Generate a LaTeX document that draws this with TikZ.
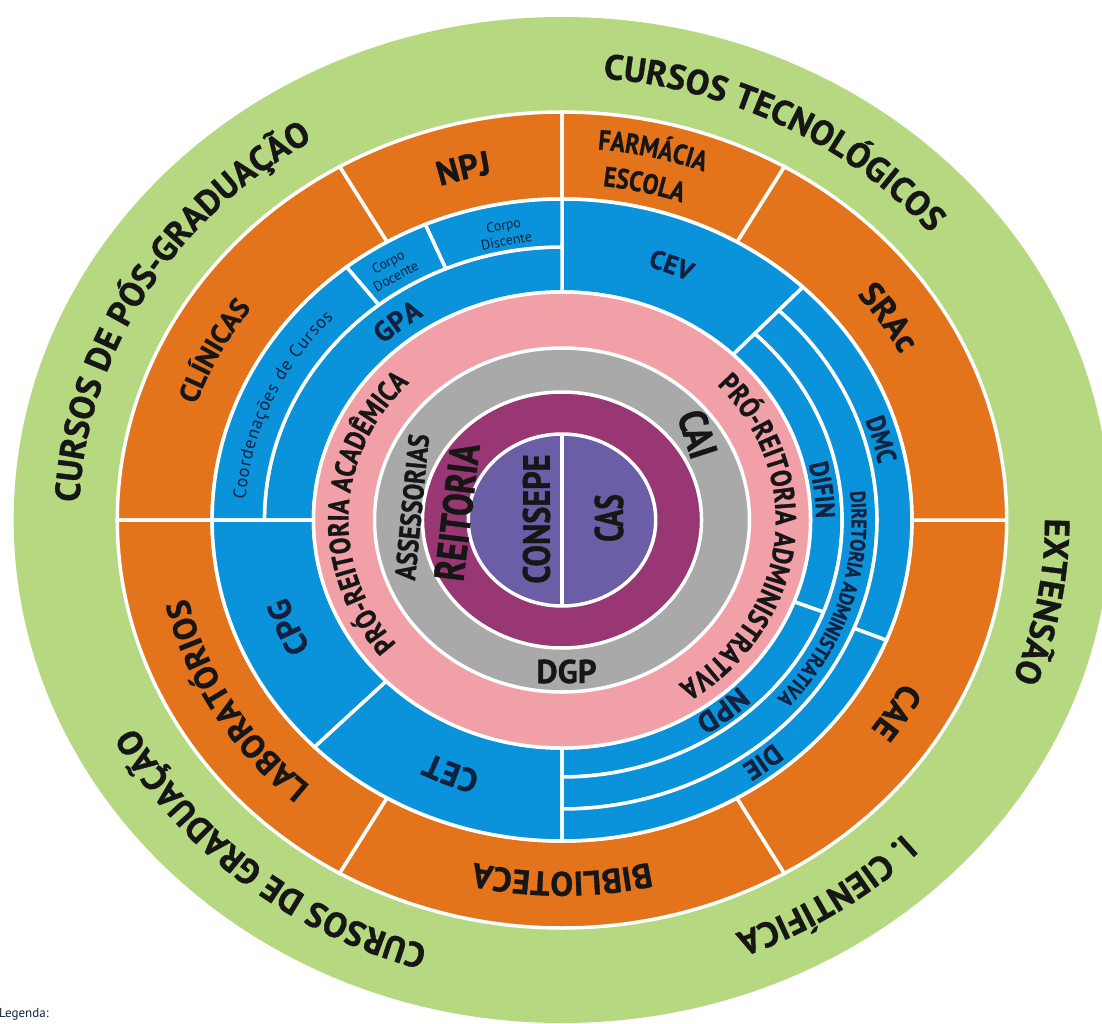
\documentclass[tikz,border=0pt]{standalone}
\usepackage{fontspec}
\setmainfont{PT Sans}
\newfontfamily\heavy{PT Sans Bold}[FakeBold=1]
\newfontfamily\heavycond{PT Sans Bold}[FakeBold=1, FakeStretch=0.85]
\newfontfamily\heavynarrow{PT Sans Bold}[FakeBold=1, FakeStretch=0.72]
\newfontfamily\heavytall{PT Sans Bold}[FakeBold=1, FakeStretch=0.8]
\newfontfamily\plainfont{PT Sans}
\usetikzlibrary{decorations.text}

\definecolor{ringgreen}{HTML}{B6D880}
\definecolor{ringorange}{HTML}{E4741C}
\definecolor{ringblue}{HTML}{0A93DA}
\definecolor{ringpink}{HTML}{F0A0A6}
\definecolor{ringgray}{HTML}{A9A9A9}
\definecolor{ringmagenta}{HTML}{983773}
\definecolor{ringpurple}{HTML}{6B5DA6}
\definecolor{ink}{HTML}{161616}
\definecolor{navy}{HTML}{12213F}

\newcommand\fsz[1]{\fontsize{#1}{#1}\selectfont}

\tikzset{
  sep/.style={draw=white, line width=3.5pt},
  ringlabel/.style={inner sep=0pt, anchor=center, text=ink},
}

% annular sector (inside the x-stretched scope): colour, inner r, outer r, from, to
\newcommand\annsector[5]{%
  \filldraw[fill=#1, sep] (#4:#3pt) arc[start angle=#4, end angle=#5, radius=#3pt]
    -- (#5:#2pt) arc[start angle=#5, end angle=#4, radius=#2pt] -- cycle;}

% clockwise text on an elliptic arc: centre angle, baseline radius, half span, font, colour, text
\newcommand\arctext[6]{%
  \path[decorate, decoration={text along path, text align=center,
      text color=#5, text={|#4|#6}}]
    ({#1+#3}:{1.09*#2pt} and {#2pt})
    arc[start angle={#1+#3}, end angle={#1-#3}, x radius={1.09*#2pt}, y radius={#2pt}];}

% clockwise text spread evenly between two angles: from, to, baseline radius, font, colour, text
\newcommand\fittext[6]{%
  \path[decorate, decoration={text along path, text align=fit to path,
      text color=#5, text={|#4|#6}}]
    ({#1}:{1.09*#3pt} and {#3pt})
    arc[start angle={#1}, end angle={#2}, x radius={1.09*#3pt}, y radius={#3pt}];}

\begin{document}
\begin{tikzpicture}
\useasboundingbox (-562pt,-503pt) rectangle (540pt,520pt);
\clip (-562pt,-503pt) rectangle (540pt,520pt);
\fill[white] (-562pt,-503pt) rectangle (540pt,520pt);

\begin{scope}[xscale=1.09]
  % outer ring
  \fill[ringgreen] (0,0) circle[radius=503pt];
  % orange ring
  \annsector{ringorange}{321}{408}{90}{120}
  \annsector{ringorange}{321}{408}{120}{180}
  \annsector{ringorange}{321}{408}{180}{240}
  \annsector{ringorange}{321}{408}{240}{300}
  \annsector{ringorange}{321}{408}{300}{360}
  \annsector{ringorange}{321}{408}{0}{60}
  \annsector{ringorange}{321}{408}{60}{90}
  % blue ring
  \annsector{ringblue}{228}{321}{46.5}{90}
  \annsector{ringblue}{228}{273}{90}{180}
  \annsector{ringblue}{273}{321}{90}{113}
  \annsector{ringblue}{273}{321}{113}{128}
  \annsector{ringblue}{273}{321}{128}{180}
  \annsector{ringblue}{228}{321}{180}{225}
  \annsector{ringblue}{228}{321}{225}{270}
  \annsector{ringblue}{228}{257}{-21}{46.5}
  \annsector{ringblue}{228}{257}{-90}{-21}
  \annsector{ringblue}{257}{289}{-90}{46.5}
  \annsector{ringblue}{289}{321}{-22}{46.5}
  \annsector{ringblue}{289}{321}{-90}{-22}
  % inner rings
  \filldraw[fill=ringpink, sep] (0,0) circle[radius=228pt];
  \filldraw[fill=ringgray, sep] (0,0) circle[radius=172pt];
  \filldraw[fill=ringmagenta, sep] (0,0) circle[radius=128pt];
  \filldraw[fill=ringpurple, sep] (0,0) circle[radius=86pt];
  \draw[white, line width=3.5pt] (90:86pt) -- (-90:86pt);
\end{scope}

% outer ring labels
\arctext{62}{443}{45}{\heavy\fsz{35}}{ink}{CURSOS TECNOLÓGICOS}
\arctext{150}{443}{45}{\heavy\fsz{35}}{ink}{CURSOS DE PÓS-GRADUAÇÃO}
\arctext{-10}{443}{45}{\heavy\fsz{35}}{ink}{EXTENSÃO}
\arctext{-56}{443}{45}{\heavy\fsz{35}}{ink}{I. CIENTÍFICA}
\arctext{-130}{443}{45}{\heavy\fsz{35}}{ink}{CURSOS DE GRADUAÇÃO}

% orange ring labels
\arctext{105}{352}{40}{\heavy\fsz{34}}{ink}{NPJ}
\arctext{153}{355}{40}{\heavy\fsz{28}}{ink}{CLÍNICAS}
\arctext{-150}{352}{45}{\heavy\fsz{33}}{ink}{LABORATÓRIOS}
\arctext{-90}{352}{45}{\heavy\fsz{34}}{ink}{BIBLIOTECA}
\arctext{-31}{352}{40}{\heavy\fsz{34}}{ink}{CAE}
\arctext{33}{352}{40}{\heavy\fsz{34}}{ink}{SRAc}
\arctext{77}{372}{30}{\heavycond\fsz{28}}{ink}{FARMÁCIA}
\arctext{77}{336}{30}{\heavycond\fsz{28}}{ink}{ESCOLA}

% blue ring labels
\arctext{68}{265.5}{30}{\heavy\fsz{26}}{navy}{CEV}
\arctext{128}{240.5}{30}{\heavy\fsz{28}}{navy}{GPA}
\fittext{176}{136}{291}{\plainfont\fsz{18}}{navy}{Coordenações de Cursos}
\arctext{-157.5}{263.5}{30}{\heavy\fsz{32}}{navy}{CPG}
\arctext{-112.5}{262.5}{30}{\heavy\fsz{33}}{navy}{CET}
\arctext{7}{233}{30}{\heavycond\fsz{27}}{navy}{DIFIN}
\arctext{-17.5}{265.7}{45}{\heavycond\fsz{21}}{navy}{DIRETORIA ADMINISTRATIVA}
\arctext{15}{295.5}{30}{\heavycond\fsz{27}}{navy}{DMC}
\arctext{-51.5}{232}{30}{\heavy\fsz{29}}{navy}{NPD}
\arctext{-52}{295.5}{30}{\heavy\fsz{27}}{navy}{DIE}

\node[rotate=10.6, align=center, inner sep=0pt, text=navy,
      font=\plainfont\fontsize{14}{16}\selectfont] (corpodiscente) at (-57pt,287pt) {Corpo\\Discente};
\node[rotate=28.4, align=center, inner sep=0pt, text=navy,
      font=\plainfont\fontsize{14}{16}\selectfont] (corpodocente) at (-170pt,251pt) {Corpo\\Docente};

% pink ring labels
\arctext{177.5}{196}{70}{\heavycond\fsz{29}}{ink}{PRÓ-REITORIA ACADÊMICA}
\arctext{-6.6}{196}{70}{\heavycond\fsz{29}}{ink}{PRÓ-REITORIA ADMINISTRATIVA}

% grey, magenta and centre labels
\node[ringlabel, rotate=84.4, font=\heavycond\fsz{29}] (assessorias) at (-150pt,13pt) {ASSESSORIAS};
\node[ringlabel, rotate=-72, font=\heavycond\fsz{40}] (cai) at (135.5pt,86pt) {CAI};
\node[ringlabel, font=\heavy\fsz{33}] (dgp) at (4.5pt,-151.5pt) {DGP};
\node[ringlabel, rotate=83, font=\heavytall\fsz{42}] (reitoria) at (-105pt,8pt) {REITORIA};
\node[ringlabel, rotate=90, font=\heavycond\fsz{38}] (consepe) at (-25.5pt,1pt) {CONSEPE};
\node[ringlabel, rotate=90, font=\heavynarrow\fsz{40}] (cas) at (47pt,2pt) {CAS};

\node[anchor=base west, inner sep=0pt, text=navy, font=\plainfont\fsz{13}] (legenda) at (-563pt,-497pt) {Legenda:};
\end{tikzpicture}
\end{document}
